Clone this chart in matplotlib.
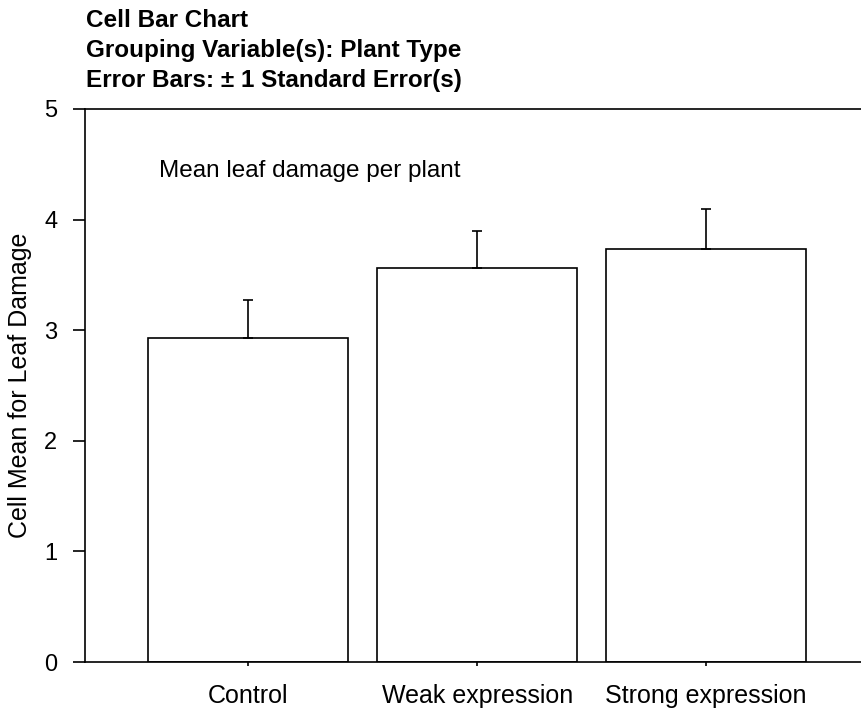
import matplotlib.pyplot as plt
import numpy as np

plt.rcParams['font.family'] = ['Liberation Sans', 'DejaVu Sans']

groups = ["Control", "Weak expression", "Strong expression"]
means = [2.93, 3.56, 3.73]
std_err = [0.34, 0.34, 0.37]
y_ticks = [0, 1, 2, 3, 4, 5]

fig = plt.figure(figsize=(8.62, 7.17), dpi=100)
ax = fig.add_axes([0.0986, 0.0767, 0.9014, 0.7713])

x = np.arange(len(groups))
ax.bar(x, means, width=0.873, color='white', edgecolor='black', linewidth=1.2)
ax.errorbar(x, means, yerr=[np.zeros(len(std_err)), std_err], fmt='none',
            ecolor='black', elinewidth=1.2, capsize=3.6, capthick=1.2)

ax.set_xlim(-0.712, 2.68)
ax.set_ylim(0, 5)
ax.set_yticks(y_ticks)
ax.set_xticks(x)
ax.set_xticklabels(groups, fontsize=18)
ax.tick_params(axis='y', labelsize=17, length=9, width=1.2, pad=11)
ax.tick_params(axis='x', length=3, width=1.2, pad=13)
ax.set_ylabel("Cell Mean for Leaf Damage", fontsize=18, va='center')
ax.yaxis.set_label_coords(-0.084, 0.5)

for s in ['left', 'top', 'bottom']:
    ax.spines[s].set_linewidth(1.2)
ax.spines['right'].set_visible(False)

ax.text(-0.388, 4.385, "Mean leaf damage per plant", fontsize=17.5, va='baseline')

title_lines = ["Cell Bar Chart",
               "Grouping Variable(s): Plant Type",
               "Error Bars: \u00b1 1 Standard Error(s)"]
for i, line in enumerate(title_lines):
    fig.text(0.1, 0.962 - i * 0.0418, line, fontsize=17.5, fontweight='bold', va='baseline')

fig.savefig("out.png", dpi=100)
